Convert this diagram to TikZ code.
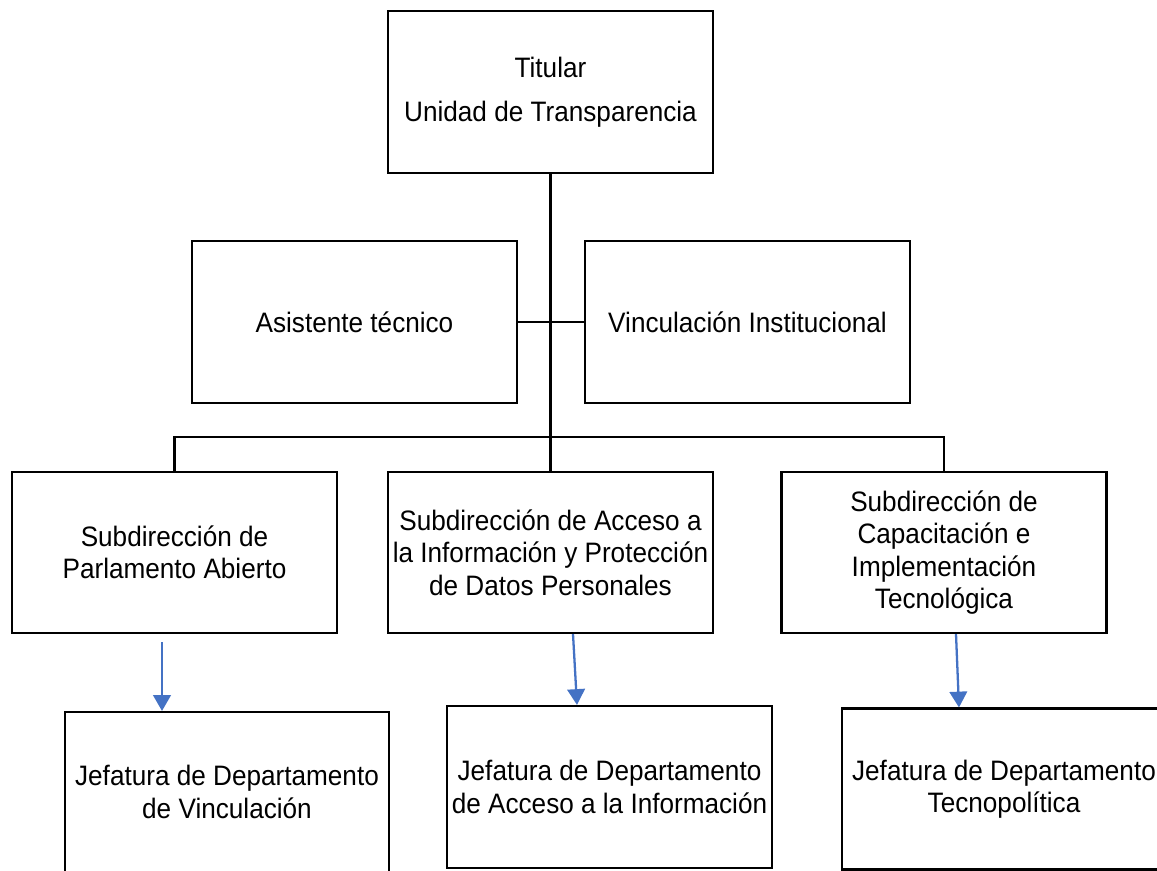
\documentclass[tikz,border=0pt]{standalone}
\usepackage{fontspec}
\setmainfont{Liberation Sans}[FakeStretch=0.93]
\usetikzlibrary{arrows.meta}
\definecolor{azul}{HTML}{4472C4}

\begin{document}
\begin{tikzpicture}[x=0.02cm, y=-0.02cm,
        caja/.style={draw, line width=1.2pt, align=center, inner sep=0pt,
            minimum width=6.5cm, minimum height=3.24cm,
            font=\fontsize{16}{18.4}\selectfont},
        flecha/.style={draw=azul, line width=1.3pt, -{Triangle[width=10pt, length=9pt]}},
        linea/.style={line width=1.2pt}]
            \clip (0,0) rectangle (1157,871);
            \node[caja, font=\fontsize{16}{25}\selectfont] (titular) at (550.5,92) {Titular \\ Unidad de Transparencia};
            \node[caja] (asistente) at (354.5,322) {Asistente técnico};
            \node[caja] (vinculacion) at (747.5,322) {Vinculación Institucional};
            \node[caja, minimum height=3.22cm] (sub_parlamento) at (174.5,552.5) {Subdirección de \\ Parlamento Abierto};
            \node[caja, minimum height=3.22cm] (sub_acceso) at (550.5,552.5) {Subdirección de Acceso a \\ la Información y Protección \\ de Datos Personales};
            \node[caja, minimum height=3.22cm] (sub_capacitacion) at (944,552.5) {Subdirección de \\ Capacitación e \\ Implementación \\ Tecnológica};
            \node[caja, minimum width=6.48cm, minimum height=3.2cm] (jef_vinculacion) at (227,792) {Jefatura de Departamento \\ de Vinculación};
            \node[caja] (jef_acceso) at (609.5,787) {Jefatura de Departamento \\ de Acceso a la Información};
            \node[caja, minimum width=6.48cm, minimum height=3.22cm] (jef_tecno) at (1004,789) {Jefatura de Departamento \\ Tecnopolítica};
            \coordinate (bus) at (550.5,437);
            \draw[linea] (titular) -- (bus);
            \draw[linea] (asistente) -- (vinculacion);
            \draw[linea] (sub_parlamento) |- (bus) -| (sub_capacitacion);
            \draw[linea] (bus) -- (sub_acceso);
            \draw[flecha] ([shift={(-12.5,8)}]sub_parlamento.south) -- ([xshift=-65*0.02cm]jef_vinculacion.north);
            \draw[flecha] ([xshift=22.5*0.02cm]sub_acceso.south) -- ([xshift=-32.5*0.02cm]jef_acceso.north);
            \draw[flecha] ([xshift=12*0.02cm]sub_capacitacion.south) -- ([xshift=-45*0.02cm]jef_tecno.north);
        \end{tikzpicture}
\end{document}
